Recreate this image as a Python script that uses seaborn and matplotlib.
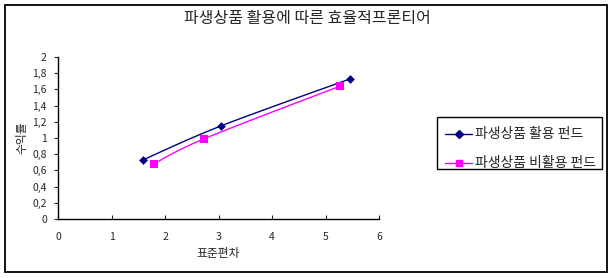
import numpy as np
import pandas as pd
import matplotlib
matplotlib.use("Agg")
import matplotlib.pyplot as plt
import seaborn as sns
from matplotlib.patches import Rectangle
from matplotlib.lines import Line2D
from matplotlib.ticker import FuncFormatter

sns.set_style("white")
plt.rcParams['font.family'] = ['Noto Sans CJK KR', 'DejaVu Sans']

title = "파생상품 활용에 따른 효율적프론티어"
x_label = "표준편차"
y_label = "수익률"
series_names = ["파생상품 활용 펀드", "파생상품 비활용 펀드"]
used_x = [1.59, 3.05, 5.46]
used_y = [0.73, 1.15, 1.73]
unused_x = [1.79, 2.73, 5.27]
unused_y = [0.68, 0.99, 1.64]
x_ticks = [0, 1, 2, 3, 4, 5, 6]
y_ticks = [0, 0.2, 0.4, 0.6, 0.8, 1.0, 1.2, 1.4, 1.6, 1.8, 2.0]


def smooth(xs, ys, n=30):
    P = np.column_stack([xs, ys]).astype(float)
    Pext = np.vstack([P[0], P, P[-1]])
    out = []
    t = np.linspace(0, 1, n)[:, None]
    for i in range(len(P) - 1):
        p0, p3 = Pext[i + 1], Pext[i + 2]
        c1 = p0 + (Pext[i + 2] - Pext[i]) / 6.0
        c2 = p3 - (Pext[i + 3] - Pext[i + 1]) / 6.0
        seg = ((1 - t) ** 3) * p0 + 3 * ((1 - t) ** 2) * t * c1 + 3 * (1 - t) * t ** 2 * c2 + t ** 3 * p3
        out.append(seg if i == 0 else seg[1:])
    s = np.vstack(out)
    return s[:, 0], s[:, 1]


W, H = 615, 278
fig = plt.figure(figsize=(6.15, 2.78), dpi=100)


def fx(px):
    return px / W


def fy(py):
    return 1 - py / H


# outer chart border
fig.patches.append(Rectangle((fx(5), fy(272)), 602 / W, 267 / H,
                             transform=fig.transFigure, fill=False, edgecolor='black', linewidth=1.3))
ax = fig.add_axes([fx(58), fy(219), 321 / W, 162 / H])

colors = ["#000080", "#FF00FF"]
markers = ["D", "s"]
msizes = [20, 30]
for (xs, ys), c, m, ms in zip([(used_x, used_y), (unused_x, unused_y)], colors, markers, msizes):
    sx, sy = smooth(xs, ys)
    sns.lineplot(x=sx, y=sy, sort=False, color=c, linewidth=1.0, ax=ax, estimator=None)
    sns.scatterplot(x=xs, y=ys, color=c, marker=m, s=ms, edgecolor=c, linewidth=0, ax=ax, zorder=3)

ax.set_xlim(0, 6)
ax.set_ylim(0, 2)
ax.set_xticks(x_ticks)
ax.set_yticks(y_ticks)
ax.yaxis.set_major_formatter(FuncFormatter(lambda v, p: ("%g" % round(v, 1)).replace(".", ",")))
for s in ["top", "right"]:
    ax.spines[s].set_visible(False)
for s in ["left", "bottom"]:
    ax.spines[s].set_color("black")
    ax.spines[s].set_linewidth(1.0)
ax.tick_params(axis='y', direction='out', length=3, width=0.8, labelsize=7.5, pad=5, left=True)
ax.tick_params(axis='x', direction='in', length=3, width=0.8, labelsize=7.5, pad=9, bottom=True)
ax.set_xlabel(x_label, fontsize=8.5, labelpad=4)
ax.set_ylabel(y_label, fontsize=8.5, labelpad=3)
fig.text(fx(307), fy(18), title, ha='center', va='center', fontsize=11.5)

# legend box
fig.patches.append(Rectangle((fx(437), fy(169)), 165 / W, 52 / H,
                             transform=fig.transFigure, fill=True, facecolor='white',
                             edgecolor='black', linewidth=1.0))
for row_y, c, m, ms, name in zip([134, 163], colors, markers, [4, 5], series_names):
    fig.lines.append(Line2D([fx(445), fx(472)], [fy(row_y), fy(row_y)], transform=fig.transFigure,
                            color=c, linewidth=1.0))
    fig.lines.append(Line2D([fx(458.5)], [fy(row_y)], transform=fig.transFigure,
                            color=c, marker=m, markersize=ms, linestyle='none'))
    fig.text(fx(475), fy(row_y), name, ha='left', va='center', fontsize=10)

fig.savefig("out.png", dpi=100)
